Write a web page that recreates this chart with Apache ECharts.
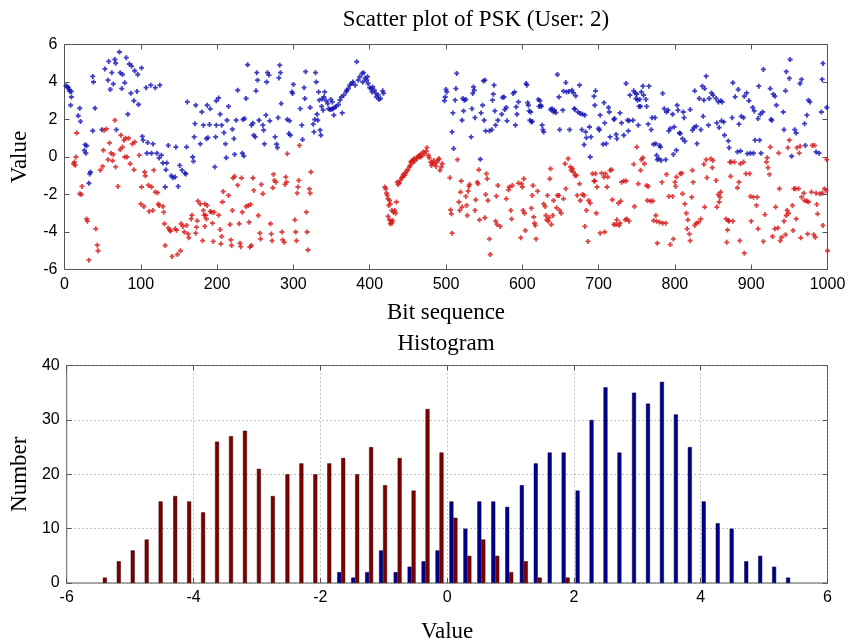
<!DOCTYPE html>
<html>
<head>
<meta charset="utf-8">
<script src="https://cdn.jsdelivr.net/npm/echarts@6.0.0/dist/echarts.min.js"></script>
<style>
  html, body { margin: 0; padding: 0; background: #fff; }
  #main { width: 852px; height: 644px; }
</style>
</head>
<body>
<div id="main"></div>
<script>
// scatter: [bit index, value]
const blueBits = [
  [2,3.8],[4,3.74],[5,3.7],[6,3.6],[7,3.5],[9,3.5],[9,3.2],[8,2.76],[20,2.6],[18,2.2],[21,1.9],[37,1.4],[27,0.66],[29,0.6],[26,0.35],[28,0.2],[34,-0.8],[33,-0.9],[32,-1.4],[37,4.3],[38,4.0],[40,2.6],[49,1.46],[53,4.7],[58,5.1],[62,4.5],[57,4.1],[60,3.6],[66,5.2],[67,5.0],[72,5.6],[73,4.5],[76,4.4],[64,3.9],[75,3.65],[79,3.96],[81,5.3],[85,4.96],[88,4.85],[92,4.6],[96,4.4],[101,4.75],[87,3.4],[95,3.5],[91,3.0],[97,2.8],[83,2.28],[68,1.46],[107,3.7],[113,3.83],[119,3.7],[125,3.83],[102,1.1],[103,0.9],[109,0.77],[116,0.7],[108,0.2],[114,0.2],[121,0.2],[127,0.1],[124,-0.05],[129,-0.32],[134,-0.32],[136,0.62],[133,-0.68],[140,-1.0],[142,-1.1],[145,-1.07],[149,-1.57],[132,-1.6],[146,0.53],[151,-0.45],[154,-0.7],[158,-0.86],[159,-0.9],[160,0.53],[168,0],[169,-0.23],[170,1.07],[171,1.78],[161,2.94],[172,2.76],
  [180,2.4],[182,1.7],[178,0.7],[187,2.76],[191,2.57],[186,0.98],[188,1.03],[190,1.73],[199,1.7],[198,1.07],[197,-0.53],[199,3.0],[202,3.15],[204,2.28],[206,1.7],[209,1.3],[211,0.7],[213,1.96],[212,-0.04],[215,2.7],[220,1.48],[222,0.98],[223,0.14],[225,1.96],[227,3.56],[234,2.0],[236,2.05],[233,0.2],[235,0.05],[238,3.12],[240,4.92],[245,1.7],[247,1.8],[248,1.16],[250,1.07],[252,4.5],[253,4.1],[251,3.53],[255,1.96],[260,1.7],[261,1.43],[262,0.7],[264,2.23],[265,4.0],[266,4.5],[268,4.37],[269,1.93],[276,1.07],[278,0.68],[279,0.5],[280,2.1],[281,4.22],[283,4.5],[282,4.9],[284,2.85],[292,2.0],[295,1.93],[294,1.25],[296,1.16],[298,3.47],[299,3.39],[300,3.87],[309,2.58],[311,1.7],[312,0.93],[314,3.7],[315,3.12],[316,4.55],[322,2.64],[326,1.75],[328,2.0],[327,1.34],[329,4.5],[330,4.0],[331,2.28],[332,1.96],[333,3.47],[334,3.03],[335,1.43],[336,1.16],[337,2.7],[339,2.5],[338,3.1],[340,3.2],[341,3.47],[343,3.0],[345,2.85],[346,2.58],[348,2.53],[350,2.55],[352,2.58],[349,3.07],[351,2.94],[353,2.23],[354,2.64],[356,2.7],[359,2.8],[361,3.03],[363,3.2],[364,2.35],[366,3.3],[369,3.47],[370,3.56],[372,3.65],[374,3.83],[376,3.92],[378,4.0],[381,3.83],[383,5.08],[385,4.1],[387,4.28],
  [390,4.46],[392,4.5],[394,4.2],[396,4.1],[397,4.28],[391,4.0],[398,3.92],[400,3.7],[402,3.65],[404,3.74],[403,3.47],[406,3.56],[408,3.39],[409,3.2],[411,3.3],[412,3.07],[414,3.12],[417,3.53],[418,3.4],
  [500,3.6],[501,3.47],[498,3.0],[499,3.2],[509,2.35],[508,1.34],[510,0.45],[514,4.46],[513,3.65],[512,3.03],[522,3.12],[524,3.03],[526,3.07],[521,1.96],[523,2.46],[534,2.58],[536,3.74],[537,3.56],[535,3.39],[538,2.1],[533,1.07],[546,2.35],[548,2.76],[549,4.06],[551,4.1],[550,1.96],[552,1.39],[545,-0.12],[557,1.39],[560,1.46],[561,3.03],[562,3.35],[563,3.83],[564,2.46],[565,1.7],[568,1.96],[574,3.17],[576,3.2],[573,2.28],[577,2.53],[579,2.64],[580,1.93],[588,3.39],[590,3.47],[592,2.67],[593,2.28],[591,1.7],[595,2.94],
  [605,3.92],[606,3.83],[607,2.9],[608,2.76],[609,2.46],[611,2.4],[610,1.96],[612,1.87],[613,1.9],[621,3.07],[623,3.0],[624,2.76],[622,2.7],[625,2.7],[626,1.7],[627,1.46],[628,1.34],[637,2.53],[639,2.58],[642,2.5],[644,2.37],[641,2.4],[646,4.4],[648,3.2],[649,1.46],[653,2.5],[654,3.51],[658,3.47],[661,3.5],[665,3.56],[667,3.42],[657,3.97],[662,1.46],[668,2.58],[669,2.55],[670,3.26],[673,2.4],[676,2.32],[675,3.83],[678,1.46],[679,2.28],[682,2.23],[681,0.66],[683,1.34],[684,1.03],[688,1.6],[689,0],[690,1.07],[695,2.76],[696,3.53],[694,3.24],[700,1.52],[701,1.43],[702,2.23],[706,0.68],[710,0.71],[707,2.9],[708,1.82],[713,2.64],[714,2.4],[715,1.07],[720,2.0],[721,2.05],[723,1.2],[724,0.98],[728,2.35],[730,1.82],[733,1.16],[736,3.92],[738,1.96],[740,1.93],[739,1.39],[741,3.3],[745,1.96],[746,3.53],[748,3.42],[750,3.35],[749,3.12],[751,3.03],[754,3.07],[753,2.7],[755,2.7],[752,1.7],[756,3.47],[759,3.3],[758,3.78],[762,3.07],[763,2.7],[765,1.75],[766,3.78],[769,1.46],[770,2.1],[774,2.1],[772,0.68],[775,0.71],[780,0.62],[781,0.53],[776,0.09],[777,-0.14],[779,-0.09],[782,-0.18],[784,3.39],[786,2.58],[789,2.4],[791,2.5],[797,2.28],[788,-0.14],[792,1.39],[794,1.52],[798,0.14],[799,1.6],[802,0.36],[803,2.76],[804,2.5],[806,1.28],[807,1.25],
  [811,2.4],[812,2.1],[810,0.98],[813,0.84],[820,2.53],[823,1.43],[825,1.57],[828,1.64],[826,3.53],[829,0.71],[832,3.12],[834,1.46],[836,3.78],[839,3.65],[841,4.31],[837,2.17],[838,3.03],[844,1.7],[845,3.12],[848,3.42],[850,3.3],[854,3.12],[857,2.94],[860,3.0],[862,2.94],[855,1.82],[858,1.57],[861,1.93],[864,1.87],[865,1.16],[870,0.86],[871,0.5],[876,3.96],[879,3.21],[883,3.6],[875,2.1],[884,1.75],[882,0.27],[886,0.32],[887,2.17],[890,2.1],[891,3.24],[894,3.42],[897,3.0],[895,0.18],[899,0.2],[902,2.64],[904,2.46],[905,0.9],[911,0.9],[903,0.2],[913,0.2],[910,3.78],[909,2.05],[912,2.28],[915,2.4],[916,4.67],[925,3.65],[929,3.35],[931,3.24],[926,2.0],[927,1.96],[933,2.76],[942,2.4],[943,1.46],[946,4.55],[945,3.53],[951,5.2],[950,4.19],[953,0.04],[957,1.46],[959,1.28],[964,3.92],[966,4.14],[970,1.78],[973,2.23],[975,3.03],[977,2.94],[971,0.62],[985,0.27],[989,0.2],[992,2.4],[993,4.14],[994,4.99],[999,2.64]
];
const redBits = [
  [15,0],[13,-0.27],[12,-0.36],[14,-0.44],[16,1.28],[23,-1.57],[20,-1.96],[22,-2.0],[29,-3.3],[30,-3.42],[32,-5.5],[41,-3.83],[43,-4.7],[44,-5.0],[47,-0.7],[50,-0.5],[51,0.36],[52,1.43],[55,1.5],[57,-0.14],[59,0.75],[61,0.2],[64,0.14],[63,-0.2],[67,-0.53],[66,1.96],[70,-1.57],[73,0.4],[76,0.53],[74,1.16],[78,0.9],[80,1.0],[79,0],[82,0],[86,-0.36],[91,-0.68],[89,0.7],[84,1.0],[92,0.8],[98,0.1],[101,-1.6],[105,-0.8],[106,-1.0],[100,-2.5],[104,-2.64],[111,-2.9],[116,-2.85],[110,-1.5],[114,-1.6],[117,-0.7],[119,-1.87],[122,-1.9],[123,-2.5],[124,-2.58],[129,-2.64],[130,-2.94],[131,-3.56],[136,-3.78],[132,-4.72],[138,-3.9],[139,-3.95],[145,-3.83],[147,-3.9],[141,-5.3],[148,-5.2],[153,-3.56],[155,-3.7],[157,-4.0],[160,-3.65],[163,-4.3],[162,-4.1],[166,-3.3],[167,-3.1],[152,-5.0],[173,-3.74],[174,-3.4],[175,-2.35],[172,-4.06],
  [178,-2.5],[182,-2.85],[183,-3.1],[185,-3.1],[184,-2.5],[187,-2.58],[191,-2.9],[193,-2.94],[196,-2.94],[184,-3.7],[186,-3.3],[194,-3.53],[181,-4.46],[195,-4.5],[202,-3.1],[204,-3.87],[206,-4.24],[205,-4.63],[207,-2.4],[208,-1.84],[215,-2.05],[217,-3.6],[218,-4.42],[219,-4.72],[220,-2.85],[221,-1.12],[223,-1.03],[227,-1.5],[229,-3.56],[230,-4.6],[231,-4.78],[232,-1.12],[233,-2.94],[238,-2.64],[241,-2.58],[244,-2.53],[242,-3.48],[243,-4.8],[245,-4.72],[247,-1.12],[248,-1.78],[254,-3.12],[256,-4.06],[257,-4.37],[258,-1.46],[260,-1.96],[270,-3.56],[271,-4.1],[272,-4.46],[273,-1.64],[274,-0.93],[275,-1.25],[277,-1.34],[285,-4.0],[286,-4.42],[288,-4.55],[290,-1.07],[291,-1.34],[289,-1.46],[292,0.18],[302,-3.35],[303,-4.0],[304,-4.46],[305,-1.93],[306,-1.6],[307,-1.25],[308,0.62],[317,-2.94],[318,-4.0],[319,-4.96],[321,-1.7],[322,-1.93],[323,-0.8],
  [420,-1.6],[421,-1.7],[422,-1.93],[423,-2.05],[424,-2.23],[426,-2.32],[425,-2.58],[427,-2.5],[429,-2.85],[431,-2.94],[433,-2.85],[424,-3.17],[426,-3.35],[428,-3.42],[430,-3.39],[427,-3.56],[429,-3.53],[434,-3.0],[435,-2.4],[436,-1.34],[437,-1.46],[439,-1.39],[440,-1.25],[442,-1.1],[443,-1.07],[444,-0.93],[446,-0.98],[447,-0.86],[448,-0.75],[450,-0.68],[452,-0.53],[453,-0.45],[454,-0.27],[455,-0.21],[456,-0.32],[457,-0.18],[458,-0.09],[459,-0.21],[461,-0.05],[462,-0.09],[464,0.04],[465,0.09],[466,0],[467,0.14],[468,0.04],[470,0.27],[472,0.18],[474,0.32],[475,0.5],[477,0.09],[478,-0.04],[480,-0.27],[481,-0.45],[482,-0.32],[484,-0.18],[485,-0.36],[487,-0.5],[488,-0.27],[490,-0.14],[491,-0.09],[492,-0.71],[494,-0.53],[495,-0.36],
  [505,-1.1],[515,-0.14],[506,-2.82],[507,-3.03],[508,-4.06],[517,-2.4],[518,-2.85],[519,-1.87],[520,-1.28],[521,-2.67],[526,-2.1],[527,-2.58],[529,-1.82],[530,-1.57],[531,-1.46],[528,-3.12],[538,-2.85],[539,-2.28],[541,-1.34],[542,-1.43],[543,-0.68],[544,-3.35],[551,-3.24],[552,-2.0],[553,-0.89],[554,-1.16],[555,-2.32],[557,-4.37],[558,-5.2],[565,-3.42],[567,-3.6],[566,-2.09],[568,-1.52],[571,-3.7],[579,-2.23],[582,-1.75],[583,-1.6],[587,-1.52],[586,-3.3],[585,-2.85],[595,-1.39],
  [602,-1.16],[599,-1.43],[600,-1.6],[601,-2.85],[603,-3.0],[604,-3.92],[598,-4.3],[614,-1.52],[613,-2.05],[612,-2.73],[615,-3.2],[616,-3.53],[617,-3.65],[618,-4.37],[620,-1.82],[628,-2.5],[630,-2.64],[631,-3.12],[632,-3.35],[634,-3.42],[635,-3.24],[633,-2.05],[636,-1.16],[637,-0.62],[638,-3.6],[640,-3.12],[641,-2.32],[645,-2.71],[646,-2.05],[648,-2.05],[649,-2.85],[651,-3.0],[654,-2.23],[656,-0.36],[657,-1.69],[660,-0.09],[663,-0.53],[666,-0.62],[664,-0.71],[667,-0.8],[669,-0.98],[671,-0.98],[672,-2.05],[675,-1.43],[676,-2.32],[679,-2.0],[681,-2.05],[682,-3.7],[684,-2.85],[686,-4.5],[687,-2.32],[689,-2.46],[692,-0.89],[694,-1.28],[695,-1.28],[697,-3.0],[698,-1.6],[696,-0.89],[702,-4.06],[708,-4.0],[704,-0.86],[707,-1.07],[709,-0.89],[711,-1.6],[715,-0.71],[717,-0.68],[712,-1.07],[718,-2.28],[720,-3.6],[723,-3.6],[727,-3.65],[728,-3.53],[724,-3.35],[726,-2.46],[729,-2.35],[730,-1.34],[733,-1.28],[736,-1.28],[735,-3.35],[737,-3.3],[740,-3.42],[747,-2.64],[746,-0.39],[750,0.53],[752,-1.43],[755,-0.71],[756,-0.14],[760,-0.36],[758,-0.04],[763,-1.52],[765,-1.57],[764,-2.32],[768,-2.35],[771,-2.35],[772,-3.39],[776,-3.42],[780,-3.48],[784,-3.53],[788,-3.53],[775,-3.12],[777,-4.6],[783,-1.34],[789,-0.93],[792,-2.1],[797,-2.1],[794,-4.67],[798,-4.37],[800,-1.34],[801,-1.57],[802,-1.07],[807,-0.89],
  [809,-0.86],[810,-1.96],[813,-2.5],[815,-3.0],[817,-3.35],[816,-3.83],[823,-0.71],[824,-1.34],[822,-2.14],[819,-4.1],[820,-4.46],[826,-3.65],[828,-3.53],[831,-3.48],[834,-3.3],[838,-0.39],[841,-0.14],[847,-0.09],[849,-0.57],[850,-0.18],[842,-1.1],[839,-2.67],[854,-1.25],[857,-2.0],[859,-2.14],[858,-2.4],[860,-1.87],[855,-2.67],[867,-3.3],[870,-3.39],[871,-3.42],[876,-3.42],[869,-3.89],[868,-4.55],[872,-0.27],[874,-0.27],[878,-0.27],[873,-1.03],[882,-1.64],[884,-1.34],[885,-4.46],[886,-0.36],[890,-0.27],[891,-5.13],[893,-0.89],[898,-0.89],[899,-2.1],[903,-2.14],[908,-2.14],[900,-3.42],[907,-2.58],[909,-3.83],[918,-3.07],[916,-4.5],[921,-0.04],[920,-0.27],[922,-0.57],[924,-0.93],[925,0.53],[928,-4.24],[931,-3.83],[935,-3.78],[938,-4.46],[940,-4.28],[932,-2.67],[936,0.21],[937,-1.69],[943,-3.42],[945,-4.14],[946,-3.12],[947,-2.85],[949,-3.0],[948,0.5],[950,0.9],[955,-3.92],[956,-1.69],[958,-1.69],[962,-1.69],[954,-2.58],[959,-3.3],[960,0.5],[964,0.57],[963,0.21],[965,-4.31],[966,-2.14],[970,-2.32],[969,-1.93],[973,-2.35],[974,-4.1],[975,-2.4],[980,0.62],[983,0.62],[979,-1.87],[985,-1.93],[990,-1.96],[993,-1.93],[996,-1.69],[984,-4.28],[982,-4.14],[986,-2.53],[987,-3.03],[994,-3.65],[999,-0.14],[998,-1.78],[1000,-5.0]
];

// histogram
const binCenters = [-5.43,-5.21,-4.99,-4.77,-4.55,-4.32,-4.10,-3.88,-3.66,-3.44,-3.22,-3.00,-2.78,-2.55,-2.33,-2.11,-1.89,-1.67,-1.45,-1.23,-1.01,-0.78,-0.56,-0.34,-0.12,0.10,0.32,0.54,0.76,0.98,1.21,1.43,1.65,1.87,2.09,2.31,2.53,2.75,2.98,3.20,3.42,3.64,3.86,4.08,4.30,4.52,4.75,4.97,5.19,5.41];
const blueCounts = [0,0,0,0,0,0,0,0,0,0,0,0,0,0,0,0,0,2,1,2,6,2,3,4,6,15,10,15,15,14,18,22,24,24,17,30,36,24,35,33,37,31,25,15,11,10,4,5,3,1];
const redCounts = [1,4,6,8,15,16,15,13,26,27,28,21,16,20,22,20,22,23,20,25,18,23,17,32,24,12,5,8,5,2,4,1,0,1,0,0,0,0,0,0,0,0,0,0,0,0,0,0,0,0];

const scatterTicksX = [0, 1000, 100];
const scatterTicksY = [-6, 6, 2];
const histTicksX = [-6, 6, 2];
const histTicksY = [0, 40, 10];

const sans = 'Liberation Sans';
const serif = 'Liberation Serif';
const frame = '#555';
// small filled "+" marker
const plus = 'path://M1.6,0H3.4V1.6H5V3.4H3.4V5H1.6V3.4H0V1.6H1.6Z';

function axis(grid, t, extra) {
  return Object.assign({
    type: 'value', gridIndex: grid, min: t[0], max: t[1], interval: t[2],
    axisLine: { show: false, onZero: false },
    axisTick: { inside: true, length: 5, lineStyle: { color: frame } },
    axisLabel: { color: '#000', fontFamily: sans, fontSize: 16, margin: 7, formatter: v => String(v) },
    splitLine: { show: false }
  }, extra);
}
const mirror = { axisLabel: { show: false }, name: '' };
const dotted = { show: true, lineStyle: { color: '#8a8a8a', type: [1, 3], width: 1 } };
const nameStyle = { color: '#000', fontFamily: serif, fontSize: 23 };

const chart = echarts.init(document.getElementById('main'));
chart.setOption({
  animation: false,
  backgroundColor: '#fff',
  title: [
    { text: 'Scatter plot of PSK (User: 2)', left: 476, top: 8, textAlign: 'center', padding: 0,
      textStyle: { fontFamily: serif, fontWeight: 'normal', fontSize: 23, color: '#000' } },
    { text: 'Histogram', left: 446, top: 332, textAlign: 'center', padding: 0,
      textStyle: { fontFamily: serif, fontWeight: 'normal', fontSize: 23, color: '#000' } }
  ],
  grid: [
    { left: 64.5, right: 24.5, top: 44.5, height: 225, show: true, borderColor: frame, borderWidth: 1 },
    { left: 65, right: 24.5, top: 365.5, height: 227, show: true, borderColor: frame, borderWidth: 1 }
  ],
  xAxis: [
    axis(0, scatterTicksX, { name: 'Bit sequence', nameLocation: 'middle', nameGap: 32, nameTextStyle: nameStyle }),
    axis(0, scatterTicksX, Object.assign({ position: 'top' }, mirror)),
    axis(1, histTicksX, { name: 'Value', nameLocation: 'middle', nameGap: 37, nameTextStyle: nameStyle, splitLine: dotted }),
    axis(1, histTicksX, Object.assign({ position: 'top' }, mirror))
  ],
  yAxis: [
    axis(0, scatterTicksY, { name: 'Value', nameLocation: 'middle', nameGap: 33, nameTextStyle: nameStyle }),
    axis(0, scatterTicksY, Object.assign({ position: 'right' }, mirror)),
    axis(1, histTicksY, { name: 'Number', nameLocation: 'middle', nameGap: 35, nameTextStyle: nameStyle, splitLine: dotted }),
    axis(1, histTicksY, Object.assign({ position: 'right' }, mirror))
  ],
  series: [
    { type: 'scatter', xAxisIndex: 0, yAxisIndex: 0, data: blueBits, symbol: plus, symbolSize: 5,
      itemStyle: { color: '#1010b4' } },
    { type: 'scatter', xAxisIndex: 0, yAxisIndex: 0, data: redBits, symbol: plus, symbolSize: 5,
      itemStyle: { color: '#d41616' } },
    { type: 'bar', xAxisIndex: 2, yAxisIndex: 2, barWidth: 4, barGap: '0%',
      data: binCenters.map((c, i) => [c, blueCounts[i]]).filter(d => d[1] > 0),
      itemStyle: { color: '#00008c', borderColor: '#000040', borderWidth: 0.5 } },
    { type: 'bar', xAxisIndex: 2, yAxisIndex: 2, barWidth: 4, barGap: '0%',
      data: binCenters.map((c, i) => [c, redCounts[i]]).filter(d => d[1] > 0),
      itemStyle: { color: '#7c0000', borderColor: '#300000', borderWidth: 0.5 } }
  ]
});
</script>
</body>
</html>
